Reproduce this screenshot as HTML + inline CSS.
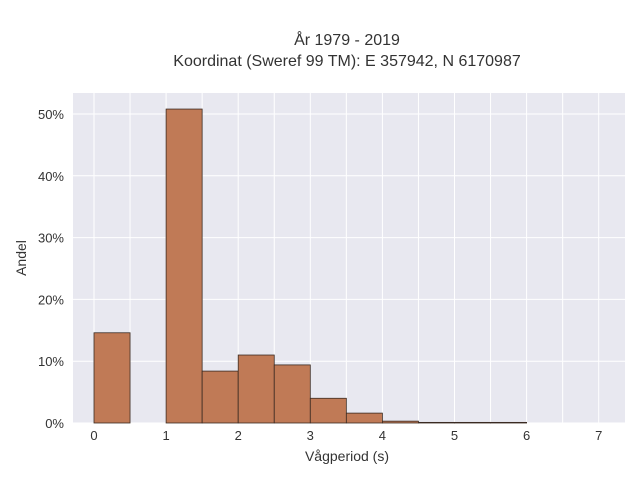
<!DOCTYPE html>
<html><head><meta charset="utf-8"><style>
body{margin:0;background:#fff;}
text{font-family:"Liberation Sans",sans-serif;fill:#333;}
</style></head><body>
<svg id="chart" width="640" height="480">
<rect x="73" y="93" width="552" height="330" fill="#e8e8f0"/>
<g id="grid"></g><g id="bars"></g><g id="ticks"></g>
<text x="347" y="45" text-anchor="middle" font-size="16">År 1979 - 2019</text>
<text x="347" y="66" text-anchor="middle" font-size="16">Koordinat (Sweref 99 TM): E 357942, N 6170987</text>
<text x="347" y="461" text-anchor="middle" font-size="14">Vågperiod (s)</text>
<text transform="translate(26,258) rotate(-90)" text-anchor="middle" font-size="14">Andel</text>
</svg>
<script>
const binStarts=[0,0.5,1,1.5,2,2.5,3,3.5,4,4.5,5,5.5];
const shares=[14.6,0,50.8,8.4,11.0,9.4,4.0,1.6,0.3,0.1,0.1,0.1];
const xTicks=[0,1,2,3,4,5,6,7];
const yTicks=[0,10,20,30,40,50];
const binWidth=0.5;
const NS="http://www.w3.org/2000/svg";
const X=v=>94+v*72.1, Y=v=>423-v*6.18;
const grid=document.getElementById('grid'),bars=document.getElementById('bars'),ticks=document.getElementById('ticks');
function mk(t,a,p){const e=document.createElementNS(NS,t);for(const k in a)e.setAttribute(k,a[k]);p.appendChild(e);return e;}
for(let v=-0.5;v<=7.5;v+=0.5){const x=X(v);if(x<73||x>625)continue;
 const l=mk('line',{x1:x,x2:x,y1:93,y2:423,stroke:'#fff','stroke-width':1},grid);
 
 }
yTicks.forEach(v=>{const l=mk('line',{x1:73,x2:625,y1:Y(v),y2:Y(v),stroke:'#fff','stroke-width':1},grid);
 
 
 const t=mk('text',{x:64,y:Y(v)+5,'text-anchor':'end','font-size':13},ticks);t.textContent=v+'%';
 
 });
xTicks.forEach(v=>{const t=mk('text',{x:X(v),y:440,'text-anchor':'middle','font-size':13},ticks);t.textContent=v;
 
 });
binStarts.forEach((s,i)=>{if(shares[i]<=0)return;
 const r=mk('rect',{x:X(s),y:Y(shares[i]),width:X(s+binWidth)-X(s),height:Y(0)-Y(shares[i]),fill:'#c07a56',stroke:'#3a2a22','stroke-width':0.8},bars);
 
 });
</script>
</body></html>
